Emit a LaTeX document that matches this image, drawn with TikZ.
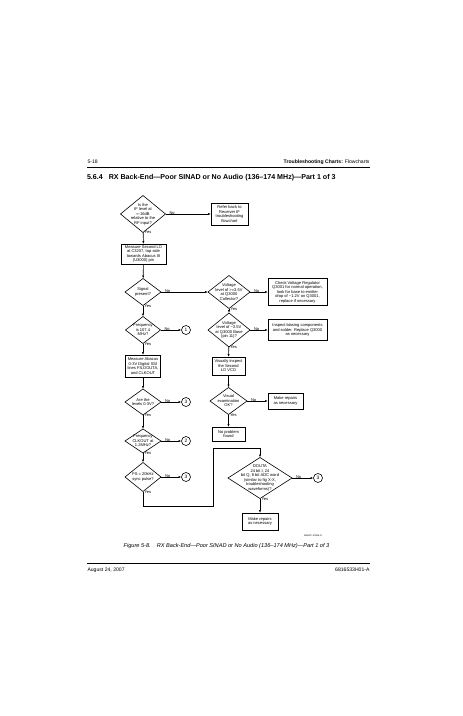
\documentclass[tikz,border=0pt]{standalone}
\usepackage{fontspec}
\setmainfont{Liberation Sans}
\usetikzlibrary{shapes.geometric,arrows.meta}
\begin{document}
\begin{tikzpicture}[x=1pt,y=-1pt,
  every node/.style={inner sep=0pt, outer sep=0pt},
  ft/.style={font=\fontsize{4.05}{4.5}\selectfont, align=center, text=black},
  dia/.style={diamond, draw, line width=0.6pt, inner sep=0pt},
  bx/.style={rectangle, draw, line width=0.6pt, ft, inner sep=0.6pt},
  circ/.style={circle, draw, line width=0.6pt, minimum size=9pt, font=\fontsize{4.8}{5}\selectfont},
  arr/.style={draw, line width=0.6pt, -{Latex[length=3pt,width=2.2pt]}},
  no/.style={font=\fontsize{4}{4.5}\selectfont, pos=0, anchor=south west, xshift=4pt, yshift=-0.8pt},
  yes/.style={font=\fontsize{4}{4.5}\selectfont, pos=0, anchor=north west, xshift=1.5pt, yshift=1.2pt},
  hdr/.style={font=\fontsize{5.1}{5.8}\selectfont},
]
\useasboundingbox (0,0) rectangle (463,716);
\fill[white] (0,0) rectangle (463,716);

% header
\node[hdr, anchor=west] (pgnum) at (87.5,162) {5-18};
\node[hdr, anchor=east] (hdrr) at (369.5,162) {\textbf{Troubleshooting Charts:} Flowcharts};
\draw[line width=0.7pt] (87,167.5) -- (370,167.5);
\node[anchor=west, font=\fontsize{7.1}{8}\selectfont\bfseries] (title) at (87,178) {5.6.4\hspace{6pt}RX Back-End—Poor SINAD or No Audio (136–174 MHz)—Part 1 of 3};

% left column
\node[dia, minimum width=45pt, minimum height=37pt, label={[ft]center:{Is the\\IF level at\\≈-16dB\\relative to the\\RF input?}}] (d1) at (143,214) {};
\node[bx, minimum width=37pt, minimum height=22pt] (refer) at (229.5,214) {Refer back to\\Receiver IF\\troubleshooting\\flowchart};
\node[bx, minimum width=45pt, minimum height=20pt] (b1) at (143.5,254) {Measure Second LO\\at C3207, top side\\towards Abacus III\\(U3000) pin};
\node[dia, minimum width=36pt, minimum height=27pt, label={[ft]center:{Signal\\present?}}] (d2) at (143,292) {};
\node[dia, minimum width=35pt, minimum height=27pt, label={[ft]center:{Frequency\\is 107.4\\MHz?}}] (d6) at (143,330) {};
\node[circ] (c1) at (186,330) {1};
\node[bx, minimum width=35pt, minimum height=22pt] (b7) at (143,366) {Measure Abacus\\0-3V Digital SSI\\lines FS,DOUTA,\\and CLKOUT};
\node[dia, minimum width=36pt, minimum height=26pt, label={[ft]center:{Are the\\levels 0-3V?}}] (d7) at (143,402) {};
\node[circ] (c2) at (186,402) {3};
\node[dia, minimum width=36pt, minimum height=24pt, label={[ft]center:{Frequency\\CLKOUT at\\1.2MHz?}}] (d8) at (143,441) {};
\node[circ] (c3) at (186,441) {2};
\node[dia, minimum width=36pt, minimum height=29pt, label={[ft]center:{FS = 20kHz\\sync pulse?}}] (d9) at (143,477) {};
\node[circ] (c4) at (186,477) {3};

% right column
\node[dia, minimum width=42pt, minimum height=33pt, label={[ft]center:{Voltage\\level of >=3.5V\\at Q3000\\Collector?}}] (d3) at (229,292) {};
\node[bx, minimum width=59pt, minimum height=27pt] (b2) at (297.5,292) {Check Voltage Regulator\\Q3001 for normal operation,\\look for base to emitter\\drop of \textasciitilde1.2V on Q3001,\\replace if necessary};
\node[dia, minimum width=42pt, minimum height=34pt, label={[ft]center:{Voltage\\level of \textasciitilde3.5V\\at Q3000 Base\\(pin 11)?}}] (d4) at (229,330) {};
\node[bx, minimum width=59pt, minimum height=21pt] (b3) at (297.5,330) {Inspect biasing components\\and solder. Replace Q3000\\as necessary};
\node[bx, minimum width=33pt, minimum height=18pt] (b4) at (228.5,366) {Visually inspect\\the Second\\LO VCO};
\node[dia, minimum width=37pt, minimum height=27pt, label={[ft]center:{Visual\\examination\\OK?}}] (d5) at (228.5,401) {};
\node[bx, minimum width=35pt, minimum height=16pt] (b5) at (285.5,401) {Make repairs\\as necessary};
\node[bx, minimum width=33pt, minimum height=14pt] (b6) at (228.5,434) {No problem\\found};

% bottom
\node[dia, minimum width=64pt, minimum height=41pt, label={[ft]center:{DOUTA\\24 bit I, 24\\bit Q, 8 bit ADC word\\(similar to fig X-X,\\troubleshooting\\waveforms)?}}] (d10) at (260,478) {};
\node[circ] (c5) at (318,478) {3};
\node[bx, minimum width=36pt, minimum height=17pt] (b8) at (260,521.5) {Make repairs\\as necessary};
\node[font=\fontsize{2.3}{2.6}\selectfont] (docid) at (313,536) {MAEPF-27868-O};

% connectors
\draw[arr] (d1) -- node[no]{No} (refer);
\draw[arr] (d1) -- node[yes]{Yes} (b1);
\draw[arr] (b1) -- (d2);
\draw[arr] (d2) -- node[no]{No} (d3);
\draw[arr] (d2) -- node[yes]{Yes} (d6);
\draw[arr] (d6) -- node[no]{No} (c1);
\draw[arr] (d6) -- node[yes]{Yes} (b7);
\draw[arr] (b7) -- (d7);
\draw[arr] (d7) -- node[no]{No} (c2);
\draw[arr] (d7) -- node[yes]{Yes} (d8);
\draw[arr] (d8) -- node[no]{No} (c3);
\draw[arr] (d8) -- node[yes]{Yes} (d9);
\draw[arr] (d9) -- node[no]{No} (c4);
\draw[arr] (d3) -- node[no]{No} (b2);
\draw[arr] (d3) -- node[yes]{Yes} (d4);
\draw[arr] (d4) -- node[no]{No} (b3);
\draw[arr] (d4) -- node[yes]{Yes} (b4);
\draw[arr] (b4) -- (d5);
\draw[arr] (d5) -- node[no]{No} (b5);
\draw[arr] (d5) -- node[yes]{Yes} (b6);
\coordinate (k1) at (143,506);
\coordinate (k2) at (213,506);
\coordinate (k3) at (213,448);
\coordinate (k4) at (260,448);
\draw[arr] (d9.south) -- node[yes]{Yes} (k1) -- (k2) -- (k3) -- (k4) -- (d10.north);
\draw[arr] (d10) -- node[no]{No} (c5);
\draw[arr] (d10) -- node[yes]{Yes} (b8);

% caption and footer
\node[font=\fontsize{5.6}{6.3}\selectfont\itshape] (caption) at (226.5,546) {Figure 5-8.\hspace{4pt} RX Back-End—Poor SINAD or No Audio (136–174 MHz)—Part 1 of 3};
\draw[line width=0.7pt] (87,563) -- (370,563);
\node[hdr, anchor=west] (date) at (87.5,570) {August 24, 2007};
\node[hdr, anchor=east] (partno) at (369.5,570) {6816533H01-A};
\end{tikzpicture}
\end{document}
